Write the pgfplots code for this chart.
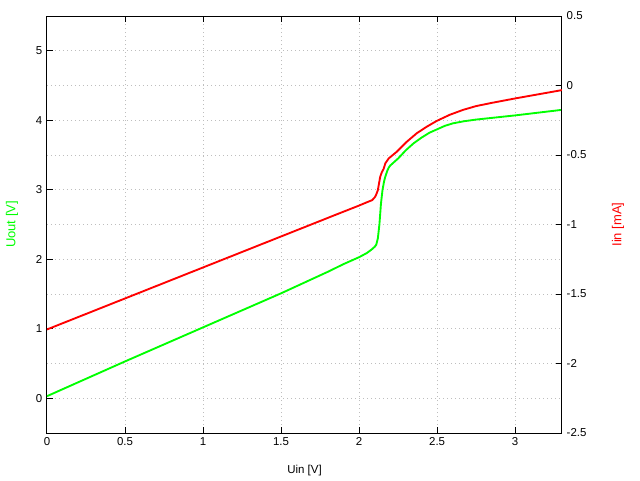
\documentclass[border=0pt]{standalone}
\usepackage{pgfplots}
\pgfplotsset{compat=1.18}
\usepackage{fontspec}
\setmainfont{Liberation Sans}
\definecolor{gpgreen}{RGB}{0,255,0}
\definecolor{gpred}{RGB}{255,0,0}
\definecolor{gridc}{RGB}{190,190,190}
\begin{document}
\begin{tikzpicture}
\useasboundingbox (-35.25pt,-35.25pt) rectangle (444.75pt,324.75pt);
\pgfplotsset{
  every axis/.append style={
    scale only axis, width=386.25pt, height=312.75pt,
    at={(0,0)}, anchor=south west,
    tick align=inside, major tick length=4.5pt,
    axis line style={line width=0.75pt},
    every tick/.style={black, line width=0.75pt},
    grid style={color=gridc, line width=0.75pt, dash pattern=on 0.75pt off 2.25pt},
    font=\fontsize{8.6}{10}\selectfont,
    /pgf/number format/assume math mode=true,
    xmin=0, xmax=3.3,
  }
}
\begin{axis}[
  ymin=-0.5, ymax=5.5,
  xtick={0,0.5,...,3}, ytick={0,1,2,3,4,5},
  extra y ticks={0.5,1.5,2.5,3.5,4.5},
  extra y tick labels={},
  extra y tick style={major tick length=0pt, grid=major},
  xtick pos=both, ytick pos=left,
  xmajorgrids, ymajorgrids,
  xticklabel style={/pgf/number format/fixed},
  xlabel={Uin [V]},
  ylabel={\textcolor{gpgreen}{Uout [V]}},
  x label style={at={(axis description cs:0.5,-0.0911)}, anchor=center},
  y label style={at={(axis description cs:-0.068,0.5)}, anchor=center, rotate=0, font=\fontsize{9.75}{11}\selectfont},
]
\addplot[gpgreen, line width=1.4pt] coordinates {
(0,0.03) (0.5,0.53) (1.0,1.02) (1.5,1.51) (1.8,1.82) (1.9,1.93) (2.0,2.03)
(2.05,2.09) (2.08,2.14) (2.10,2.18) (2.11,2.21) (2.12,2.30) (2.13,2.50)
(2.14,2.80) (2.15,3.00) (2.16,3.12) (2.168,3.19) (2.18,3.27) (2.19,3.32)
(2.20,3.35) (2.25,3.45) (2.30,3.57) (2.35,3.67) (2.40,3.75) (2.45,3.82)
(2.50,3.87) (2.55,3.92) (2.60,3.955) (2.67,3.985) (2.75,4.01) (3.0,4.07) (3.3,4.15)
};
\end{axis}
\begin{axis}[
  ymin=-2.5, ymax=0.5,
  ytick={-2.5,-2,...,0.5},
  axis y line*=right, axis x line=none,
  ytick pos=right,
  yticklabel style={/pgf/number format/fixed},
  ylabel={\textcolor{gpred}{Iin [mA]}},
  y label style={at={(axis description cs:1.1087,0.5)}, anchor=center, rotate=0, font=\fontsize{9.75}{11}\selectfont},
]
\addplot[gpred, line width=1.4pt] coordinates {
(0,-1.755) (0.5,-1.532) (1.0,-1.309) (1.5,-1.086) (1.87,-0.921) (1.99,-0.868)
(2.05,-0.840) (2.083,-0.825) (2.10,-0.805) (2.108,-0.789) (2.12,-0.753)
(2.135,-0.657) (2.145,-0.625) (2.157,-0.600) (2.168,-0.560) (2.19,-0.524)
(2.242,-0.476) (2.306,-0.404) (2.37,-0.343) (2.434,-0.296) (2.497,-0.255)
(2.58,-0.211) (2.667,-0.175) (2.75,-0.148) (2.85,-0.125) (3.0,-0.093) (3.3,-0.033)
};
\end{axis}
\end{tikzpicture}
\end{document}
